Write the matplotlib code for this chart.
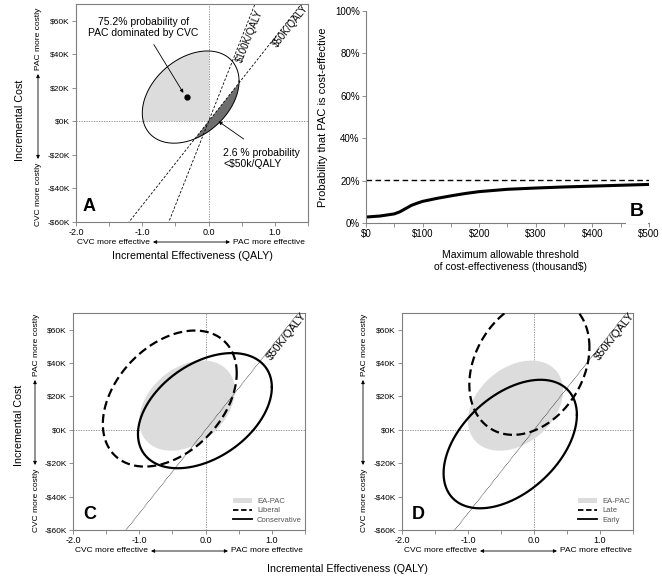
import numpy as np
import matplotlib
matplotlib.use("Agg")
import matplotlib.pyplot as plt
from matplotlib.patches import Polygon, Rectangle, Patch, FancyArrowPatch
from matplotlib.lines import Line2D

plt.rcParams['font.family'] = ['Liberation Sans', 'DejaVu Sans']

# ---------------- data ----------------
# ellipse params: center x (QALY), center y ($K), half-width x, half-height y, phase (deg)
ellipse_A = [-0.27, 14.5, 0.73, 27.5, 69.8]
point_A = [-0.32, 14.4]
ellipse_EA_PAC = [-0.28, 14.5, 0.72, 27.0, 70.5]
ellipse_liberal = [-0.54, 18.75, 1.01, 40.75, 68.0]
ellipse_conservative = [-0.01, 11.5, 1.01, 34.5, 66.0]
ellipse_late = [-0.07, 38.3, 0.91, 41.3, 74.3]
ellipse_early = [-0.36, -8.5, 1.01, 38.5, 63.0]
thresholds_A = [100, 50]   # $K per QALY
threshold_CD = 50

# CEAC (panel B)
ceac_x = [0, 25, 50, 60, 70, 80, 90, 100, 125, 150, 175, 200, 250, 300, 350, 400, 450, 500]
ceac_y = [2.8, 3.3, 4.3, 5.3, 6.8, 8.3, 9.3, 10.2, 11.6, 12.8, 13.9, 14.8, 15.9, 16.5, 17.0, 17.4, 17.8, 18.2]
ceac_max = 20.3

x_ticks = [-2.0, -1.0, 0.0, 1.0]
y_ticks = [-60, -40, -20, 0, 20, 40, 60]
b_yticks = [0, 20, 40, 60, 80, 100]

W, H = 662, 577
fig = plt.figure(figsize=(W / 100, H / 100), dpi=100)


def fp(x, y):
    return (x / W, 1 - y / H)


def box(l, t, r, b):
    return [l / W, 1 - b / H, (r - l) / W, (b - t) / H]


def ell(p, n=400):
    cx, cy, ax_, ay_, ph = p
    t = np.linspace(0, 2 * np.pi, n)
    return cx + ax_ * np.cos(t), cy + ay_ * np.cos(t - np.radians(ph))


spine_col = '#7f7f7f'


def setup_plane(ax):
    ax.set_xlim(-2.0, 1.5)
    ax.set_ylim(-60, 70)
    ax.set_xticks(np.arange(-2.0, 1.51, 0.5), minor=True)
    ax.set_xticks(x_ticks)
    ax.set_xticklabels(['%.1f' % v for v in x_ticks], fontsize=6.5)
    ax.set_yticks(y_ticks)
    ax.set_yticklabels([('-$%dK' % -v) if v < 0 else ('$%dK' % v) for v in y_ticks], fontsize=6)
    ax.tick_params(which='both', direction='out', length=3, width=0.6, color=spine_col, pad=1.5)
    for s in ax.spines.values():
        s.set_color(spine_col)
        s.set_linewidth(0.8)
    ax.axhline(0, color='#808080', lw=0.6, ls=(0, (1.5, 1.5)), zorder=1)
    ax.axvline(0, color='#808080', lw=0.6, ls=(0, (1.5, 1.5)), zorder=1)


# ---------------- Panel A ----------------
axA = fig.add_axes(box(76, 4, 308, 222))
setup_plane(axA)
ex, ey = ell(ellipse_A)
xs = np.array([-2.0, 1.5])
for th in thresholds_A:
    axA.plot(xs, th * xs, color='black', lw=0.6, ls=(0, (3, 2)), zorder=2)
lg = Polygon(np.column_stack([ex, ey]), closed=True, facecolor='#dcdcdc', edgecolor='none', zorder=1.5)
axA.add_patch(lg)
lg.set_clip_path(Rectangle((-2, 0), 2, 70, transform=axA.transData))
dk = Polygon(np.column_stack([ex, ey]), closed=True, facecolor='#6e6e6e', edgecolor='none', zorder=1.6)
axA.add_patch(dk)
dk.set_clip_path(Polygon([(-2, -100), (2, 100), (2, -100)], closed=True, transform=axA.transData))
axA.plot(ex, ey, color='black', lw=0.7, zorder=3)
axA.plot([point_A[0]], [point_A[1]], 'o', color='black', ms=3.5, zorder=4)
axA.text(0.62, 51, '$100K/QALY', rotation=68, fontsize=7, ha='center', va='center', zorder=5)
axA.text(1.24, 57, '$50K/QALY', rotation=51.6, fontsize=7, ha='center', va='center', zorder=5)
axA.annotate('75.2% probability of\nPAC dominated by CVC', xy=(-0.38, 17), xytext=(-0.98, 62),
             fontsize=7.5, ha='center', va='top', linespacing=1.1,
             arrowprops=dict(arrowstyle='-|>', lw=0.6, color='black', mutation_scale=5,
                             shrinkA=3, shrinkB=0))
axA.text(0.22, -16, '2.6 % probability\n<$50k/QALY', fontsize=7.5, ha='left', va='top', linespacing=1.1)
axA.annotate('', xy=(0.15, 0), xytext=(0.53, -10.5),
             arrowprops=dict(arrowstyle='-|>', lw=0.6, color='black', mutation_scale=5,
                             shrinkA=0, shrinkB=0))
axA.text(-1.9, -56, 'A', fontsize=13, fontweight='bold', ha='left', va='bottom')

# ---------------- Panel B ----------------
axB = fig.add_axes(box(366, 11, 649, 223))
axB.set_xlim(0, 500)
axB.set_ylim(0, 100)
axB.plot(ceac_x, ceac_y, color='black', lw=2.2, solid_capstyle='butt')
axB.axhline(ceac_max, color='black', lw=1.0, ls=(0, (4, 2.5)))
bx = np.arange(0, 501, 50)
axB.set_xticks(bx)
axB.set_xticklabels([('$%d' % v) if v % 100 == 0 else '' for v in bx], fontsize=7)
axB.set_yticks(b_yticks)
axB.set_yticklabels(['%d%%' % v for v in b_yticks], fontsize=7)
axB.tick_params(direction='out', length=3, width=0.6, color=spine_col, pad=1.5)
for s in ['top', 'right']:
    axB.spines[s].set_visible(False)
for s in ['left', 'bottom']:
    axB.spines[s].set_color(spine_col)
    axB.spines[s].set_linewidth(0.8)
axB.text(479, 1.5, 'B', fontsize=14, fontweight='bold', ha='center', va='bottom',
         bbox=dict(facecolor='white', edgecolor='none', pad=3), clip_on=False, zorder=6)
axB.set_ylabel('Probability that PAC is cost-effective', fontsize=8, labelpad=5)
fig.text(*fp(510, 261), 'Maximum allowable threshold\nof cost-effectiveness (thousand$)',
         fontsize=7.5, ha='center', va='center', linespacing=1.3)


# ---------------- Panels C & D ----------------
def panel_cd(ax, p_dash, p_solid, lab_dash, lab_solid, letter):
    setup_plane(ax)
    xs = np.array([-2.0, 1.5])
    ax.plot(xs, threshold_CD * xs, color='black', lw=0.5, ls=(0, (1, 1)), zorder=2)
    gx, gy = ell(ellipse_EA_PAC)
    ax.fill(gx, gy, color='#dcdcdc', lw=0, zorder=1.5)
    dx, dy = ell(p_dash)
    ax.plot(dx, dy, color='black', lw=1.6, ls=(0, (4, 2)), zorder=3)
    sx, sy = ell(p_solid)
    ax.plot(sx, sy, color='black', lw=1.6, zorder=3)
    ax.text(1.22, 56, '$50K/QALY', rotation=51.6, fontsize=8, ha='center', va='center', zorder=5)
    ax.text(-1.85, -56, letter, fontsize=13, fontweight='bold', ha='left', va='bottom')
    handles = [Patch(facecolor='#dcdcdc', edgecolor='none'),
               Line2D([], [], color='black', lw=1.3, ls=(0, (3, 1.5))),
               Line2D([], [], color='black', lw=1.3)]
    leg = ax.legend(handles, ['EA-PAC', lab_dash, lab_solid], loc='lower right', frameon=False,
                    fontsize=5.5, handlelength=2.6, handleheight=0.6, labelspacing=0.3,
                    handletextpad=0.6, borderaxespad=0.0, bbox_to_anchor=(1.0, 0.015),
                    alignment='left')
    for t in leg.get_texts():
        t.set_color('#555555')


axC = fig.add_axes(box(73, 313, 305, 530))
panel_cd(axC, ellipse_liberal, ellipse_conservative, 'Liberal', 'Conservative', 'C')
axD = fig.add_axes(box(402, 313, 633, 530))
panel_cd(axD, ellipse_late, ellipse_early, 'Late', 'Early', 'D')


# ---------------- outer labels & arrows ----------------
def darrow(p1, p2):
    fig.patches.append(FancyArrowPatch(
        fp(*p1), fp(*p2), transform=fig.transFigure, arrowstyle='<|-|>', mutation_scale=5,
        lw=0.6, color='black', shrinkA=0, shrinkB=0))


def side_labels(xv, ytop):
    fig.text(*fp(xv, ytop + 35), 'PAC more costly', rotation=90, fontsize=6, ha='center', va='center')
    fig.text(*fp(xv, ytop + 190), 'CVC more costly', rotation=90, fontsize=6, ha='center', va='center')
    darrow((xv - 1, ytop + 155), (xv - 1, ytop + 70))


def bottom_labels(xl, yb):
    fig.text(*fp(xl + 37, yb), 'CVC more effective', fontsize=6, ha='center', va='center')
    fig.text(*fp(xl + 193, yb), 'PAC more effective', fontsize=6, ha='center', va='center')
    darrow((xl + 77, yb), (xl + 154, yb))


side_labels(39, 4)
side_labels(36, 310)
side_labels(364, 310)
bottom_labels(76, 242)
bottom_labels(74, 551)
bottom_labels(403, 551)

fig.text(*fp(20, 120), 'Incremental Cost', rotation=90, fontsize=7.7, ha='center', va='center')
fig.text(*fp(19, 425), 'Incremental Cost', rotation=90, fontsize=7.7, ha='center', va='center')
fig.text(*fp(192, 256), 'Incremental Effectiveness (QALY)', fontsize=7.7, ha='center', va='center')
fig.text(*fp(347, 569), 'Incremental Effectiveness (QALY)', fontsize=7.7, ha='center', va='center')

fig.savefig('out.png', dpi=100)
